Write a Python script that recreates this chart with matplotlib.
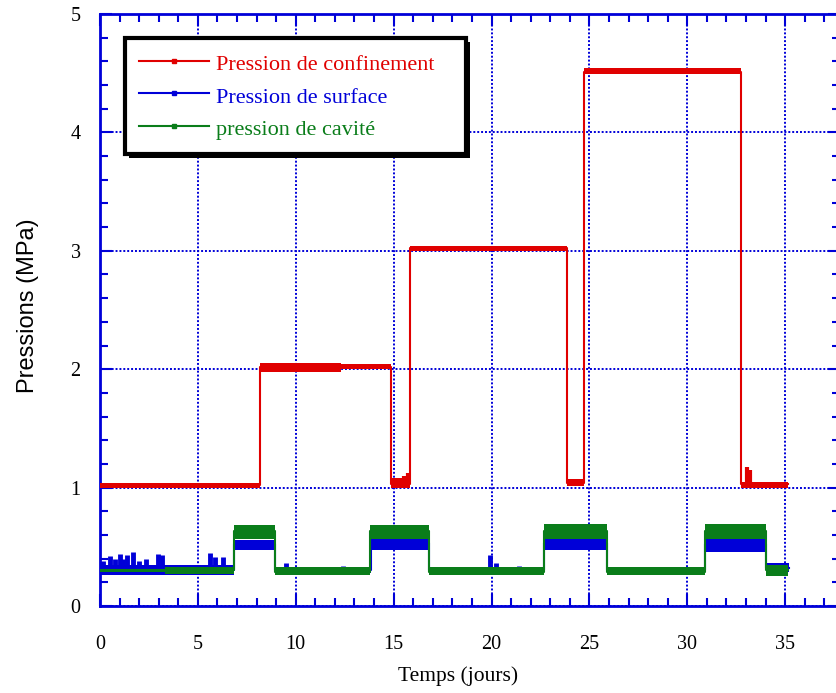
import matplotlib
matplotlib.use("Agg")
import matplotlib.pyplot as plt
from matplotlib.lines import Line2D
from matplotlib.patches import Rectangle
from matplotlib.ticker import MultipleLocator
from matplotlib.transforms import IdentityTransform

# ---------------- data ----------------
# Pression de confinement : step segments (start times, last = end)
red_t = [0, 8.18, 12.3, 14.87, 15.84, 23.86, 24.73, 32.75, 35.15]
red_level = [1.02, 2.02, 2.02, 1.03, 3.02, 1.04, 4.51, 1.03]
red_lo = [1.00, 1.98, 2.00, 1.00, 3.00, 1.01, 4.49, 1.00]
red_hi = [1.04, 2.05, 2.04, 1.08, 3.04, 1.07, 4.54, 1.05]
red_spike_t = [15.55, 15.75, 33.05, 33.2]
red_spike_v = [1.10, 1.12, 1.17, 1.15]

# Pression de surface
blue_t = [0, 6.85, 8.95, 13.85, 16.8, 22.7, 25.9, 30.9, 34.0, 35.2]
blue_level = [0.30, 0.52, 0.30, 0.53, 0.30, 0.53, 0.30, 0.52, 0.32]
blue_lo = [0.26, 0.47, 0.28, 0.47, 0.28, 0.47, 0.28, 0.46, 0.29]
blue_hi = [0.35, 0.56, 0.32, 0.57, 0.32, 0.57, 0.32, 0.57, 0.36]
blue_spike_t = [0.15, 0.5, 0.75, 1.0, 1.2, 1.4, 1.7, 2.0, 2.35, 2.95, 3.15,
                5.6, 5.85, 6.3, 9.5, 12.4, 19.9, 20.25, 21.4]
blue_spike_v = [0.38, 0.42, 0.40, 0.44, 0.40, 0.43, 0.46, 0.38, 0.40, 0.44, 0.43,
                0.45, 0.41, 0.41, 0.36, 0.34, 0.43, 0.36, 0.34]

# Pression de cavité
green_t = [0, 3.3, 6.85, 8.95, 13.8, 16.8, 22.7, 25.9, 30.9, 34.0, 35.15]
green_level = [0.30, 0.30, 0.63, 0.29, 0.63, 0.29, 0.63, 0.29, 0.63, 0.30]
green_lo = [0.29, 0.27, 0.57, 0.26, 0.57, 0.26, 0.57, 0.26, 0.57, 0.25]
green_hi = [0.31, 0.33, 0.68, 0.33, 0.68, 0.33, 0.69, 0.33, 0.69, 0.35]

labels = ["Pression de confinement", "Pression de surface", "pression de cavité"]

x_ticks = [0, 5, 10, 15, 20, 25, 30, 35]
y_ticks = [0, 1, 2, 3, 4, 5]

# ---------------- style ----------------
RED = "#e00000"
BLUE = "#0000d8"
GREEN = "#0a7d1a"
SERIF = ["Liberation Serif", "DejaVu Serif"]
SANS = ["Liberation Sans", "DejaVu Sans"]

fig = plt.figure(figsize=(8.37, 6.93), dpi=100)
ax = fig.add_axes([100 / 837, 87 / 693, 740 / 837, 592 / 693])


def draw_series(t, level, lo, hi, color, lw):
    yl = level + [level[-1]]
    ylo = lo + [lo[-1]]
    yhi = hi + [hi[-1]]
    ax.fill_between(t, ylo, yhi, step="post", color=color, lw=0, zorder=3)
    ax.step(t, yl, where="post", color=color, lw=lw, zorder=3)


draw_series(red_t, red_level, red_lo, red_hi, RED, 1.5)
ax.vlines(red_spike_t, 1.02, red_spike_v, color=RED, lw=3, zorder=3)

draw_series(blue_t, blue_level, blue_lo, blue_hi, BLUE, 1.5)
ax.vlines(blue_spike_t, 0.30, blue_spike_v, color=BLUE, lw=3.5, zorder=3)

draw_series(green_t, green_level, green_lo, green_hi, GREEN, 1.5)

# axes
ax.set_xlim(0, 37.8)
ax.set_ylim(0, 5)
ax.set_xticks(x_ticks)
ax.set_yticks(y_ticks)
ax.xaxis.set_minor_locator(MultipleLocator(1))
ax.yaxis.set_minor_locator(MultipleLocator(0.2))
ax.grid(True, which="major", color=BLUE, linestyle=(0, (1, 1)), lw=1.4, zorder=1)
for s in ax.spines.values():
    s.set_color(BLUE)
    s.set_linewidth(2.0)
ax.tick_params(which="both", direction="in", top=True, right=True,
               color=BLUE, width=1.5, labelsize=14.5)
ax.tick_params(which="major", length=8.6)
ax.tick_params(which="minor", length=5.8)
ax.tick_params(axis="x", which="major", pad=21)
ax.tick_params(axis="y", which="major", pad=14)
for lab in ax.get_xticklabels() + ax.get_yticklabels():
    lab.set_fontfamily(SERIF)

ax.set_xlabel("Temps (jours)", fontsize=15.5, family=SERIF)
ax.xaxis.set_label_coords(0.484, -0.101)
ax.set_ylabel("Pressions (MPa)", fontsize=17, family=SANS)
ax.yaxis.set_label_coords(-0.083, 0.508)

# legend
handles = [Line2D([], [], color=c, lw=1.5, marker="s", markersize=2.2)
           for c in (RED, BLUE, GREEN)]
leg = ax.legend(handles, labels, loc="upper left",
                bbox_to_anchor=(125 / 837, 1 - 151 / 693, 341 / 837, 113 / 693),
                bbox_transform=fig.transFigure, mode="expand", borderaxespad=0,
                prop={"family": SERIF, "size": 16}, labelcolor="linecolor",
                handlelength=3.15, handletextpad=0.32, borderpad=0.62,
                handleheight=1.17, labelspacing=0.39, fancybox=False,
                framealpha=1, edgecolor="black")
leg.get_frame().set_linewidth(3.0)
leg.set_zorder(6)

fig.canvas.draw()
bb = leg.get_window_extent()
shadow = Rectangle((bb.x0 + 4, bb.y0 - 4), bb.width, bb.height,
                   transform=IdentityTransform(), facecolor="black",
                   edgecolor="none", zorder=5.5, clip_on=False)
ax.add_artist(shadow)

fig.savefig("out.png", dpi=100)
